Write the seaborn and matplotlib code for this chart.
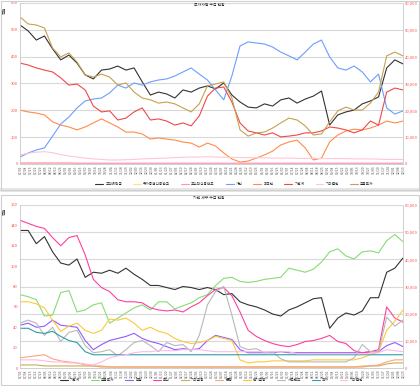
import numpy as np
import pandas as pd
import matplotlib
matplotlib.use('Agg')
import matplotlib.pyplot as plt
import seaborn as sns
from matplotlib.patches import Rectangle

# ---- data (48 samples per series) ----
x_labels = list(pd.date_range('2021-07-01', periods=77, freq='W-THU').strftime('%m/%d'))

# top panel (left axis, 0-600)
top_total = [518, 496, 462, 477, 429, 388, 406, 376, 332, 317, 350, 354, 365, 350, 358, 306, 257, 268, 261, 246,
             276, 268, 283, 291, 280, 302, 257, 231, 212, 209, 224, 216, 239, 246, 227, 242, 253, 272, 145, 183,
             194, 201, 224, 235, 250, 358, 388, 373]
top_kospi = [2, 2, 2, 2, 2, 2, 2, 2, 2, 2, 2, 2, 1, 1, 1, 1, 1, 1, 1, 1, 1, 1, 1, 1,
             1, 1, 1, 1, 1, 1, 1, 1, 1, 1, 1, 1, 1, 1, 1, 1, 1, 1, 1, 1, 1, 1, 1, 1]
top_kosdaq = [4, 4, 4, 4, 4, 4, 4, 3, 3, 3, 3, 3, 3, 3, 3, 3, 3, 3, 3, 3, 3, 3, 3, 3,
              3, 3, 3, 3, 3, 3, 3, 3, 3, 3, 3, 3, 3, 3, 3, 3, 3, 3, 3, 3, 3, 3, 3, 3]
top_indiv = [26, 41, 52, 60, 104, 149, 175, 209, 235, 242, 246, 265, 294, 283, 302, 294, 306, 313, 317, 328,
             343, 358, 335, 313, 276, 239, 328, 440, 455, 451, 447, 436, 417, 403, 388, 417, 447, 462, 399, 358,
             350, 365, 343, 306, 335, 209, 186, 198]
top_foreign = [201, 194, 190, 183, 157, 145, 138, 127, 138, 153, 168, 153, 138, 119, 119, 112, 93, 97, 93, 89,
               82, 78, 63, 78, 67, 41, 19, 7, 11, 22, 34, 48, 71, 82, 89, 60, 15, 22, 82, 108,
               123, 130, 127, 134, 145, 160, 153, 160]
top_inst = [376, 369, 358, 350, 343, 321, 294, 298, 276, 216, 194, 198, 164, 171, 194, 209, 164, 168, 160, 145,
            153, 142, 179, 253, 283, 287, 231, 153, 123, 116, 108, 116, 101, 104, 108, 116, 116, 123, 138, 134,
            127, 116, 127, 160, 145, 268, 283, 276]
top_corp = [34, 40, 44, 46, 42, 35, 30, 26, 22, 19, 17, 15, 15, 16, 17, 19, 20, 21, 22, 24,
            25, 26, 26, 27, 26, 25, 25, 24, 24, 23, 23, 22, 22, 22, 21, 21, 21, 20, 20, 20,
            20, 19, 19, 19, 18, 17, 17, 17]
top_fininv = [548, 522, 518, 507, 432, 399, 414, 380, 332, 324, 335, 324, 294, 302, 268, 246, 239, 227, 231, 224,
              209, 194, 224, 291, 298, 306, 246, 127, 104, 116, 119, 134, 153, 171, 164, 142, 108, 112, 157, 198,
              212, 201, 201, 227, 268, 403, 417, 403]

top_names = ['고객예탁금', '유가증권신용잔고', '코스닥신용잔고', '개인', '외국인', '기관계', '기타법인', '금융투자']
top_colors = ['#333333', '#ffe38a', '#ff8fc8', '#6a9eff', '#ff8c4a', '#f24848', '#ffc6d6', '#c4a24e']
top_series = [top_total, top_kospi, top_kosdaq, top_indiv, top_foreign, top_inst, top_corp, top_fininv]

# bottom panel (left axis, 0-160)
bot_total = [135, 135, 122, 129, 114, 103, 101, 107, 89, 94, 93, 96, 93, 98, 92, 87, 81, 81, 79, 77,
             80, 79, 77, 79, 77, 72, 73, 65, 62, 60, 57, 53, 51, 57, 60, 64, 68, 69, 39, 49,
             54, 52, 56, 69, 69, 94, 98, 108]
bot_fininv = [72, 70, 67, 51, 52, 74, 76, 55, 57, 62, 64, 44, 49, 54, 59, 62, 57, 65, 65, 58,
              61, 64, 69, 72, 81, 88, 89, 85, 84, 85, 87, 88, 89, 98, 96, 94, 97, 104, 114, 117,
              110, 107, 114, 115, 113, 125, 131, 124]
bot_insur = [42, 44, 40, 41, 47, 42, 41, 40, 27, 18, 23, 27, 29, 31, 34, 29, 26, 24, 21, 18,
             19, 18, 19, 27, 32, 30, 28, 18, 15, 15, 15, 15, 16, 15, 15, 15, 15, 15, 15, 15,
             15, 15, 15, 16, 16, 22, 25, 21]
bot_trust = [145, 142, 139, 137, 128, 120, 128, 130, 111, 87, 79, 75, 67, 65, 65, 64, 59, 57, 56, 57,
             55, 60, 64, 71, 77, 79, 71, 55, 37, 31, 27, 24, 22, 21, 23, 26, 27, 29, 32, 26,
             24, 17, 15, 16, 18, 60, 49, 45]
bot_etcfin = [3, 3, 3, 2, 2, 2, 2, 2, 2, 2, 1, 1, 1, 1, 1, 1, 1, 1, 1, 1, 1, 1, 1, 1,
              1, 1, 1, 1, 1, 1, 1, 1, 1, 1, 1, 1, 1, 1, 1, 1, 1, 1, 1, 2, 2, 4, 5, 5]
bot_bank = [10, 11, 12, 13, 9, 7, 6, 5, 3, 2, 2, 1, 1, 1, 1, 1, 1, 1, 1, 1, 1, 1, 1, 1,
            1, 1, 1, 1, 1, 1, 1, 1, 1, 1, 1, 1, 1, 1, 1, 1, 1, 1, 2, 2, 3, 6, 8, 8]
bot_pension = [65, 65, 63, 59, 47, 36, 41, 44, 37, 34, 37, 48, 47, 49, 44, 37, 40, 36, 34, 29,
               26, 24, 25, 27, 31, 29, 27, 8, 5, 6, 6, 7, 7, 7, 7, 7, 8, 8, 8, 8,
               8, 8, 10, 13, 16, 37, 46, 57]
bot_pef = [44, 47, 44, 32, 40, 26, 35, 37, 22, 15, 16, 18, 12, 18, 25, 27, 22, 16, 25, 22,
           23, 16, 32, 62, 75, 80, 52, 21, 18, 19, 15, 16, 9, 6, 6, 6, 6, 6, 6, 6,
           6, 10, 23, 16, 16, 50, 41, 47]
bot_gov = [39, 39, 35, 34, 36, 31, 27, 25, 16, 13, 13, 13, 13, 13, 13, 13, 13, 13, 13, 13,
           13, 13, 13, 13, 13, 13, 13, 13, 13, 13, 13, 13, 13, 13, 13, 13, 13, 13, 13, 13,
           13, 13, 13, 13, 13, 13, 13, 13]
bot_corp = [8, 8, 8, 7, 6, 6, 5, 5, 4, 3, 6, 10, 12, 13, 15, 16, 16, 17, 17, 17,
            18, 18, 18, 17, 16, 16, 16, 16, 16, 16, 16, 16, 16, 16, 14, 14, 14, 14, 14, 14,
            14, 14, 14, 14, 15, 18, 17, 16]

bot_names = ['기관계', '금융투자', '보험', '투신', '기타금융', '은행', '연기금등', '사모펀드', '국가', '기타법인']
bot_colors = ['#333333', '#86dc74', '#8f5cff', '#ff3fa0', '#c8ad52', '#ffa47c', '#ffc83a', '#b8b8b8', '#2e9ea3', '#ffb8e8']
bot_series = [bot_total, bot_fininv, bot_insur, bot_trust, bot_etcfin, bot_bank, bot_pension, bot_pef, bot_gov, bot_corp]


def to_long(series, names):
    frames = []
    for name, vals in zip(names, series):
        frames.append(pd.DataFrame({'idx': range(len(vals)), 'value': vals, 'series': name}))
    return pd.concat(frames, ignore_index=True)


sns.set_style('white')
plt.rcParams['font.family'] = ['Noto Sans CJK KR', 'DejaVu Sans']

W, H = 420, 386
fig = plt.figure(figsize=(W / 100, H / 100), dpi=100)

# chart frames like the spreadsheet chart boxes
fig.add_artist(Rectangle((0, (H - 192) / H), 1, 4 / H, transform=fig.transFigure,
                         facecolor='#e6e6e6', edgecolor='none'))
fig.add_artist(Rectangle((1 / W, (H - 190) / H), 1 - 2 / W, 189 / H, transform=fig.transFigure,
                         fill=False, edgecolor='#cfcfcf', lw=0.8))
fig.add_artist(Rectangle((1 / W, 1 / H), 1 - 2 / W, (H - 196) / H, transform=fig.transFigure,
                         fill=False, edgecolor='#cfcfcf', lw=0.8))


def panel(rect, df, names, colors, ymax, ystep, grid_vals, leg_anchor):
    ax = fig.add_axes(rect)
    sns.lineplot(data=df, x='idx', y='value', hue='series', hue_order=names,
                 palette=dict(zip(names, colors)), linewidth=0.8, ax=ax, legend=True)
    n = df['idx'].max()
    ax.set_xlim(0, n)
    ax.set_ylim(0, ymax)
    ax.set_yticks(np.arange(0, ymax + 1, ystep))
    ax.set_xticks(np.linspace(0, n, len(x_labels)))
    ax.set_xticklabels(x_labels, rotation=90, fontsize=2.4, color='#555555')
    ax.tick_params(axis='y', labelsize=3, colors='#ff4d4d', length=0, pad=1.5)
    ax.tick_params(axis='x', length=0, pad=1)
    ax.set_xlabel('')
    ax.set_ylabel('')
    for g in grid_vals:
        ax.axhline(g, color='#d9d9d9', lw=0.8, zorder=0)
    for s in ['top']:
        ax.spines[s].set_visible(False)
    for s in ['left', 'right', 'bottom']:
        ax.spines[s].set_color('#c8c8c8')
        ax.spines[s].set_linewidth(0.6)

    axr = ax.twinx()
    axr.set_ylim(0, 60000)
    axr.set_yticks(np.arange(0, 60001, 10000))
    axr.set_yticklabels([f'{int(v):,}' for v in np.arange(0, 60001, 10000)])
    axr.tick_params(axis='y', labelsize=3, colors='#ff4d4d', length=0, pad=1.5)
    for s in axr.spines.values():
        s.set_visible(False)

    sns.move_legend(ax, 'center', bbox_to_anchor=leg_anchor, ncol=len(names), frameon=False,
                    fontsize=2.6, title=None, handlelength=2.2, columnspacing=3.0, handletextpad=0.6)
    for line in ax.get_legend().get_lines():
        line.set_linewidth(0.8)
    return ax


top_rect = [20 / W, (H - 164) / H, 383 / W, 161 / H]
bot_rect = [20 / W, (H - 368) / H, 383 / W, 163 / H]

panel(top_rect, to_long(top_series, top_names), top_names, top_colors,
      600, 100, list(range(100, 601, 100)), (0.56, -0.125))
panel(bot_rect, to_long(bot_series, bot_names), bot_names, bot_colors,
      160, 20, [160 * k / 6 for k in range(1, 7)], (0.50, -0.075))

fig.text(209 / W, 1 - 5 / H, '투자자별 수급 현황', ha='center', va='center', fontsize=2.8, color='#333333')
fig.text(209 / W, 1 - 198 / H, '기관 세부 수급 현황', ha='center', va='center', fontsize=2.8, color='#333333')
fig.text(5 / W, 1 - 10 / H, '억원', rotation=90, ha='center', va='center', fontsize=2.8, color='#333333')
fig.text(5 / W, 1 - 211 / H, '억원', rotation=90, ha='center', va='center', fontsize=2.8, color='#333333')

plt.savefig('out.png', dpi=100)
